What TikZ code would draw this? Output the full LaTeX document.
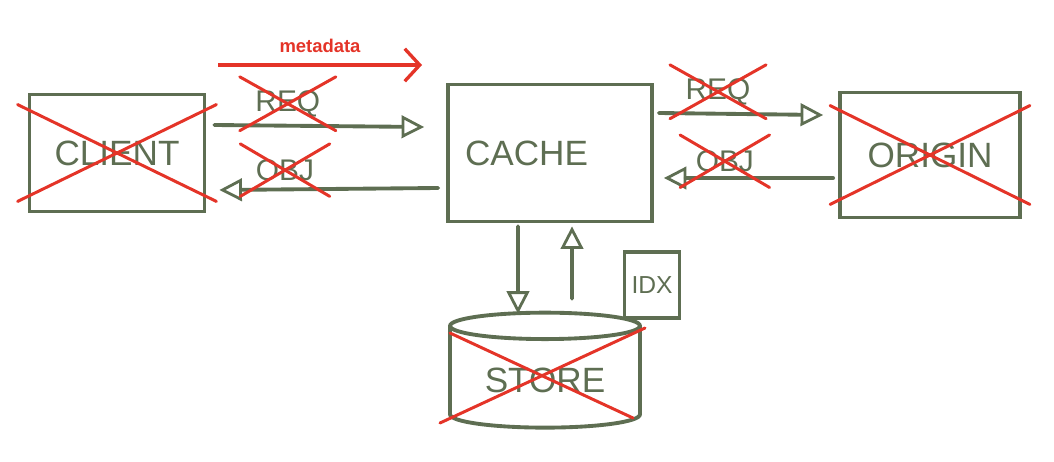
\documentclass[tikz,border=0pt]{standalone}
\usepackage{fontspec}
\setsansfont{Liberation Sans}
\usepackage{xcolor}
\usetikzlibrary{arrows.meta,positioning,shapes.geometric,calc}
\definecolor{pen}{RGB}{94,110,82}
\definecolor{crossred}{RGB}{228,52,40}
\newcommand{\xoutnode}[3]{%
  \draw[xout] ($(#1.south west)+(-#2,#3)$) -- ($(#1.north east)+(#2,-#3)$);
  \draw[xout] ($(#1.north west)+(-#2,-#3)$) -- ($(#1.south east)+(#2,#3)$);}
\tikzset{
  skbox/.style={draw=pen,line width=2.2pt,text=pen,
    font=\sffamily\fontsize{20}{24}\selectfont},
  sklbl/.style={text=pen,inner sep=1pt,font=\sffamily\fontsize{17}{20}\selectfont},
  skflow/.style={draw=pen,line width=2.2pt,line cap=round,
    -{Triangle[open,length=4.5mm,width=4.5mm,line width=1.6pt]}},
  xout/.style={draw=crossred,line width=1.7pt,line cap=round},
  metaflow/.style={draw=crossred,line width=1.9pt,
    -{Straight Barb[length=3mm,width=6.5mm]}},
}
\begin{document}
\begin{tikzpicture}[x=0.02cm,y=-0.02cm]
\useasboundingbox (0,0) rectangle (1054,462);
\node[skbox,minimum width=3.5cm,minimum height=2.34cm] (cl) at (117,153) {CLIENT};
\node[skbox,minimum height=2.74cm,text width=3.4cm,inner xsep=3.4mm,align=left] (ca) at (550,153) {CACHE};
\node[skbox,minimum width=3.6cm,minimum height=2.5cm] (or) at (930,155) {ORIGIN};
\node[skbox,cylinder,shape border rotate=90,aspect=0.2,minimum width=3.8cm,
  minimum height=2.3cm] (st) at (545,380) {STORE};
\node[skbox,minimum width=1.1cm,minimum height=1.32cm,
  font=\sffamily\fontsize{14}{16}\selectfont] (ix) at (652,285) {IDX};
% metadata
\coordinate (ms) at (218,65);
\coordinate (me) at (422,65);
\draw[metaflow] (ms) -- node[above=1mm,text=crossred,font=\sffamily\bfseries\fontsize{10.5}{12}\selectfont] (md) {metadata} (me);
% client <-> cache
\draw[skflow] ($(cl.east)+(8,-28)$) -- node[pos=0.35,above=1mm,sklbl] (rq1) {REQ} ($(ca.west)+(-22,-26)$);
\draw[skflow] ($(ca.west)+(-8,35)$) -- node[pos=0.7,above=1mm,sklbl] (ob1) {OBJ} ($(cl.east)+(13,37)$);
% cache <-> origin
\draw[skflow] ($(ca.east)+(5,-40)$) -- node[pos=0.36,above=1mm,sklbl] (rq2) {REQ} ($(or.west)+(-15,-40)$);
\draw[skflow] ($(or.west)+(-5,23)$) -- node[pos=0.64,above=0.5mm,sklbl] (ob2) {OBJ} ($(ca.east)+(10,25)$);
% cache <-> store
\draw[skflow] ($(ca.south)+(-32,3)$) -- ($(st.north)+(-27,3)$);
\draw[skflow] ($(st.north)+(27,-12)$) -- ($(ca.south)+(22,3)$);
% crossed out
\xoutnode{cl}{10}{-12}
\xoutnode{or}{8}{-15}
\draw[xout] ($(st.center)+(-105,43)$) -- ($(st.center)+(100,-52)$);
\draw[xout] ($(st.center)+(-95,-47)$) -- ($(st.center)+(88,38)$);
\xoutnode{rq1}{12}{10}
\xoutnode{ob1}{12}{12}
\xoutnode{rq2}{12}{10}
\xoutnode{ob2}{12}{12}
\end{tikzpicture}
\end{document}
